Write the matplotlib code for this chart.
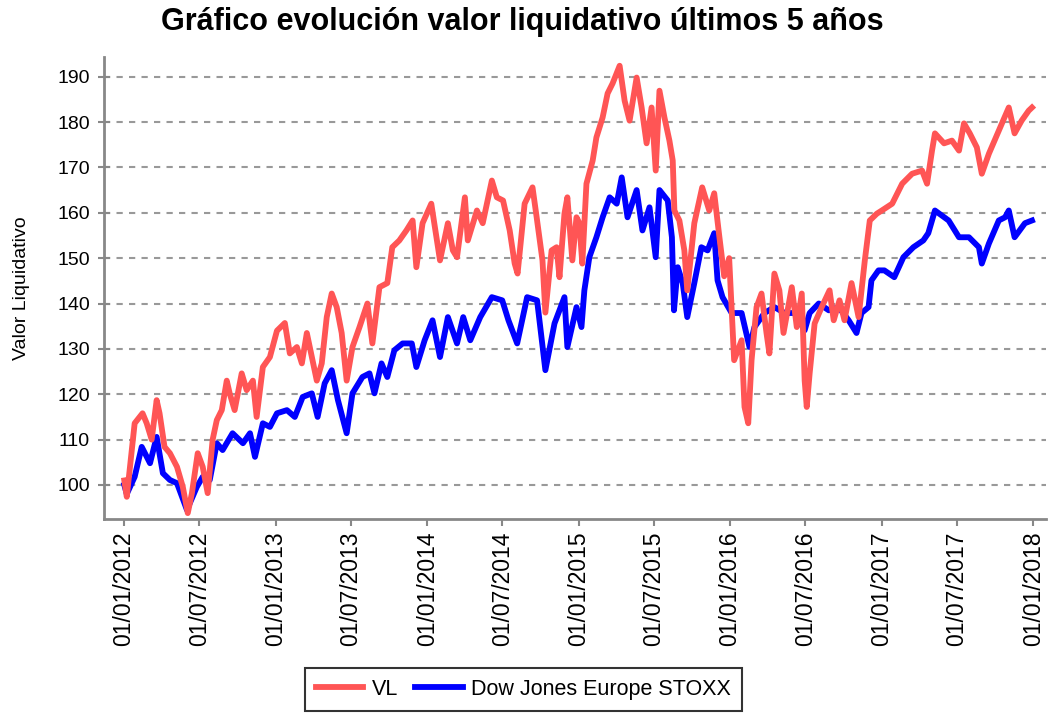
import matplotlib
matplotlib.use("Agg")
import matplotlib.pyplot as plt
import matplotlib.dates as mdates
import numpy as np

# Valor liquidativo (VL)
vl_dates = [
    "2012-01-02", "2012-01-08", "2012-01-27", "2012-02-15", "2012-02-25", "2012-03-08",
    "2012-03-20", "2012-03-27", "2012-04-08", "2012-04-21", "2012-05-08", "2012-05-22",
    "2012-06-03", "2012-06-13", "2012-06-27", "2012-07-09", "2012-07-21", "2012-08-02",
    "2012-08-12", "2012-08-24", "2012-09-05", "2012-09-12", "2012-09-24", "2012-10-11",
    "2012-10-23", "2012-11-07", "2012-11-16", "2012-12-01", "2012-12-18", "2013-01-04",
    "2013-01-23", "2013-02-04", "2013-02-21", "2013-03-05", "2013-03-17", "2013-03-29",
    "2013-04-10", "2013-04-22", "2013-05-04", "2013-05-16", "2013-05-28", "2013-06-09",
    "2013-06-21", "2013-07-05", "2013-07-22", "2013-08-10", "2013-08-22", "2013-09-08",
    "2013-09-27", "2013-10-09", "2013-10-26", "2013-11-12", "2013-11-27", "2013-12-06",
    "2013-12-21", "2014-01-11", "2014-02-01", "2014-02-20", "2014-03-04", "2014-03-14",
    "2014-04-02", "2014-04-09", "2014-05-01", "2014-05-15", "2014-06-06", "2014-06-18",
    "2014-07-03", "2014-07-19", "2014-07-31", "2014-08-07", "2014-08-24", "2014-09-12",
    "2014-09-22", "2014-10-06", "2014-10-13", "2014-10-28", "2014-11-09", "2014-11-16",
    "2014-11-28", "2014-12-05", "2014-12-17", "2014-12-27", "2015-01-03", "2015-01-10",
    "2015-01-20", "2015-02-04", "2015-02-13", "2015-02-28", "2015-03-12", "2015-03-24",
    "2015-04-10", "2015-04-22", "2015-05-04", "2015-05-21", "2015-06-02", "2015-06-14",
    "2015-06-26", "2015-07-06", "2015-07-15", "2015-07-27", "2015-08-08", "2015-08-16",
    "2015-08-20", "2015-09-01", "2015-09-13", "2015-09-20", "2015-10-07", "2015-10-26",
    "2015-11-12", "2015-11-24", "2015-12-06", "2015-12-18", "2015-12-30", "2016-01-11",
    "2016-01-29", "2016-02-05", "2016-02-14", "2016-02-22", "2016-03-05", "2016-03-17",
    "2016-03-29", "2016-04-05", "2016-04-17", "2016-04-29", "2016-05-09", "2016-05-29",
    "2016-06-10", "2016-06-22", "2016-06-29", "2016-07-04", "2016-07-11", "2016-07-23",
    "2016-08-09", "2016-08-28", "2016-09-07", "2016-09-21", "2016-10-03", "2016-10-20",
    "2016-11-06", "2016-11-21", "2016-12-03", "2016-12-20", "2017-01-01", "2017-01-26",
    "2017-02-19", "2017-03-15", "2017-04-08", "2017-04-20", "2017-05-02", "2017-05-09",
    "2017-05-31", "2017-06-19", "2017-07-06", "2017-07-18", "2017-08-01", "2017-08-18",
    "2017-08-30", "2017-09-16", "2017-10-10", "2017-11-03", "2017-11-17", "2017-12-04",
    "2017-12-21", "2017-12-29",
]
vl_values = [
    101.0, 97.4, 113.6, 115.8, 113.6, 110.0,
    118.7, 115.8, 108.4, 107.0, 104.0, 99.6,
    93.8, 98.2, 107.0, 104.0, 98.2, 110.0,
    114.3, 116.5, 123.0, 120.2, 116.5, 124.6,
    120.9, 123.0, 115.0, 126.0, 128.2, 134.0,
    135.7, 129.0, 130.4, 126.8, 133.5, 128.2,
    123.0, 126.8, 137.0, 142.2, 139.2, 133.5,
    123.0, 130.4, 134.8, 140.0, 131.2, 143.6,
    144.5, 152.4, 153.9, 156.1, 158.3, 148.0,
    157.7, 162.0, 149.5, 157.7, 151.7, 150.2,
    163.4, 153.9, 160.5, 157.7, 167.1, 163.4,
    162.7, 156.1, 148.8, 146.6, 162.0, 165.6,
    159.0, 149.5, 138.0, 151.7, 152.4, 145.8,
    159.8, 163.4, 149.5, 159.0, 157.7, 148.8,
    166.4, 171.5, 176.6, 181.0, 186.3, 188.5,
    192.4, 184.7, 180.3, 189.8, 183.2, 175.3,
    183.2, 169.3, 186.9, 181.0, 175.9, 171.5,
    160.5, 158.3, 151.7, 142.9, 157.7, 165.6,
    160.5, 164.3, 155.0, 146.0, 150.0, 127.5,
    131.9, 117.2, 113.6, 127.5, 139.2, 142.2,
    133.5, 129.0, 146.6, 142.9, 133.5, 143.6,
    134.8, 142.2, 123.0, 117.2, 124.6, 135.6,
    139.2, 142.9, 136.3, 140.7, 136.3, 144.5,
    137.0, 149.5, 158.3, 159.8, 160.5, 162.0,
    166.4, 168.6, 169.3, 166.4, 173.7, 177.5,
    175.3, 175.9, 173.7, 179.7, 177.5, 174.4,
    168.6, 173.0, 178.1, 183.2, 177.5, 180.3,
    182.5, 183.2,
]

# Indice de referencia
dj_dates = [
    "2012-01-02", "2012-01-08", "2012-01-27", "2012-02-13", "2012-03-04", "2012-03-20",
    "2012-04-04", "2012-04-21", "2012-05-08", "2012-06-01", "2012-06-25", "2012-07-09",
    "2012-07-26", "2012-08-12", "2012-08-26", "2012-09-19", "2012-10-14", "2012-10-31",
    "2012-11-12", "2012-12-01", "2012-12-18", "2013-01-04", "2013-01-28", "2013-02-16",
    "2013-03-07", "2013-03-29", "2013-04-12", "2013-04-29", "2013-05-16", "2013-05-31",
    "2013-06-21", "2013-07-05", "2013-07-29", "2013-08-15", "2013-08-27", "2013-09-13",
    "2013-09-27", "2013-10-14", "2013-11-03", "2013-11-25", "2013-12-06", "2013-12-26",
    "2014-01-14", "2014-02-01", "2014-02-20", "2014-03-14", "2014-03-29", "2014-04-15",
    "2014-05-09", "2014-06-06", "2014-07-01", "2014-07-16", "2014-08-06", "2014-08-30",
    "2014-09-23", "2014-10-13", "2014-11-04", "2014-11-28", "2014-12-05", "2014-12-27",
    "2015-01-08", "2015-01-15", "2015-01-27", "2015-02-13", "2015-02-28", "2015-03-17",
    "2015-04-03", "2015-04-15", "2015-04-29", "2015-05-21", "2015-06-04", "2015-06-21",
    "2015-07-06", "2015-07-15", "2015-08-04", "2015-08-14", "2015-08-19", "2015-08-28",
    "2015-09-09", "2015-09-20", "2015-10-07", "2015-10-24", "2015-11-08", "2015-11-24",
    "2015-12-02", "2015-12-14", "2016-01-05", "2016-01-29", "2016-02-17", "2016-02-29",
    "2016-03-24", "2016-04-17", "2016-05-12", "2016-06-05", "2016-06-29", "2016-07-11",
    "2016-08-02", "2016-08-26", "2016-09-19", "2016-10-13", "2016-11-01", "2016-11-13",
    "2016-11-30", "2016-12-07", "2016-12-24", "2017-01-07", "2017-01-31", "2017-02-22",
    "2017-03-18", "2017-04-11", "2017-04-23", "2017-05-09", "2017-06-11", "2017-07-06",
    "2017-07-30", "2017-08-23", "2017-08-30", "2017-09-16", "2017-10-10", "2017-10-25",
    "2017-11-03", "2017-11-17", "2017-12-12", "2017-12-29",
]
dj_values = [
    100.0, 98.0, 101.8, 108.4, 104.8, 110.6,
    102.6, 101.1, 100.4, 94.5, 99.6, 101.8,
    101.1, 109.2, 107.7, 111.4, 109.2, 111.4,
    106.2, 113.6, 112.8, 115.8, 116.5, 115.0,
    119.4, 120.2, 115.0, 122.4, 125.3, 118.7,
    111.4, 120.2, 123.8, 124.6, 120.2, 126.8,
    123.8, 129.7, 131.2, 131.2, 126.0, 131.9,
    136.3, 128.2, 137.0, 131.2, 137.0, 131.9,
    137.0, 141.4, 140.7, 136.3, 131.2, 141.4,
    140.7, 125.3, 135.6, 141.4, 130.4, 139.2,
    134.8, 142.9, 150.2, 154.6, 159.0, 163.4,
    162.0, 167.8, 159.0, 165.0, 156.1, 161.2,
    150.2, 165.0, 162.7, 154.6, 138.5, 148.0,
    144.5, 137.0, 144.5, 152.4, 151.7, 155.5,
    145.1, 141.4, 137.9, 137.9, 130.4, 134.8,
    137.9, 139.2, 137.9, 137.9, 134.1, 137.9,
    140.0, 138.5, 139.2, 136.3, 133.5, 137.9,
    139.2, 145.1, 147.3, 147.3, 145.8, 150.2,
    152.4, 153.9, 155.5, 160.5, 158.3, 154.6,
    154.6, 152.4, 148.8, 153.2, 158.3, 159.0,
    160.5, 154.6, 157.7, 158.3,
]

tick_dates = ["2012-01-01", "2012-07-01", "2013-01-01", "2013-07-01", "2014-01-01",
              "2014-07-01", "2015-01-01", "2015-07-01", "2016-01-01", "2016-07-01",
              "2017-01-01", "2017-07-01", "2018-01-01"]
y_ticks = [100, 110, 120, 130, 140, 150, 160, 170, 180, 190]

vl_x = np.array(vl_dates, dtype="datetime64[D]")
dj_x = np.array(dj_dates, dtype="datetime64[D]")

plt.rcParams['font.family'] = ['Liberation Sans', 'DejaVu Sans']

fig = plt.figure(figsize=(10.48, 7.15), dpi=100)
ax = fig.add_axes([0.0992, 0.2741, 0.899, 0.646])

dj_line, = ax.plot(dj_x, dj_values, color="#0000ff", lw=4.2, solid_joinstyle="round")
vl_line, = ax.plot(vl_x, vl_values, color="#ff5555", lw=4.2, solid_joinstyle="round")

ax.set_ylim(92.5, 194.3)
ax.set_xlim(np.datetime64("2011-11-14"), np.datetime64("2018-02-01"))
ax.set_yticks(y_ticks)
ax.set_xticks(np.array(tick_dates, dtype="datetime64[D]"))
ax.xaxis.set_major_formatter(mdates.DateFormatter("%d/%m/%Y"))
ax.tick_params(axis="x", labelrotation=90, labelsize=16.5, direction="out", length=5,
               width=1.5, color="#888888", pad=4)
ax.tick_params(axis="y", labelsize=14, direction="inout", length=8, width=1.5,
               color="#888888", pad=6)

ax.yaxis.grid(True, linestyle=(0, (3, 3)), color="#999999", lw=1.5)
ax.set_axisbelow(True)
for side in ["top", "right"]:
    ax.spines[side].set_visible(False)
for side in ["left", "bottom"]:
    ax.spines[side].set_color("#888888")
    ax.spines[side].set_linewidth(2)

ax.set_ylabel("Valor Liquidativo", fontsize=14, labelpad=20)

fig.text(0.498, 0.969, "Gráfico evolución valor liquidativo últimos 5 años",
         ha="center", va="center", fontsize=22, fontweight="bold")

leg = fig.legend([vl_line, dj_line], ["VL", "Dow Jones Europe STOXX"],
                 loc="upper center", bbox_to_anchor=(0.4995, 1 - 668 / 715), ncol=2,
                 fontsize=15.5, frameon=True, fancybox=False, edgecolor="black",
                 handlelength=2.2, handletextpad=0.4, columnspacing=0.8,
                 borderpad=0.5, borderaxespad=0)
leg.get_frame().set_linewidth(1.5)

fig.savefig("out.png", dpi=100)
